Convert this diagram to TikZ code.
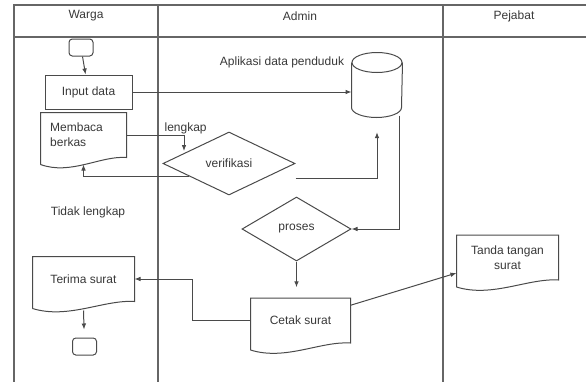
\documentclass[tikz,border=0pt]{standalone}
\usepackage{fontspec}
\setmainfont{Liberation Sans}
\usetikzlibrary{arrows.meta,positioning,calc,shapes.geometric}
\definecolor{Stroke}{HTML}{4A4A4A}
\definecolor{Frame}{HTML}{666666}
\definecolor{Label}{HTML}{383838}
\tikzset{
  >={Latex[length=4.5pt,width=3.5pt]},
  base/.style={draw=Stroke,line width=.75pt,text=Label,font=\fontsize{9}{11}\selectfont,inner sep=1pt},
  term/.style={base,rounded corners=2.5pt,minimum width=18pt,minimum height=12.75pt},
  proc/.style={base,minimum width=65.25pt,minimum height=25.5pt},
  docu/.style={base,draw=none,minimum height=33pt},
  dec/.style={base,diamond,aspect=2,inner sep=0pt},
  store/.style={base,draw=none,minimum width=37.5pt,minimum height=48pt},
  drum/.style={draw=Stroke,line width=.75pt},
  flow/.style={->,draw=Stroke,line width=.75pt},
  lab/.style={text=Label,font=\fontsize{9}{11}\selectfont,inner sep=1pt},
  lane/.style={draw=Frame,line width=1pt}
}
\newcommand{\docwave}[1]{%
  \draw[drum]
    ($(#1.south west)+(0,7)$) -- (#1.north west) -- (#1.north east) -- (#1.south east)
    .. controls ($(#1.south west)!.7!(#1.south east)+(0,-2)$) and ($(#1.south west)!.35!(#1.south east)+(0,18)$) .. ($(#1.south west)+(0,7)$);}

\begin{document}
\begin{tikzpicture}[x=.75pt,y=-.75pt]
  \useasboundingbox (0,0) rectangle (586,382);
  % lanes
  \draw[lane] (14,382) -- (14,5) -- (586,5);
  \draw[lane] (14,37) -- (586,37);
  \draw[lane] (158,5) -- (158,382);
  \draw[lane] (443,5) -- (443,382);
  \node[lab] (hwarga) at (86,16) {Warga};
  \node[lab] (hadmin) at (300,16) {Admin};
  \node[lab] (hpejabat) at (514,16) {Pejabat};
  % warga
  \node[term] (mulai) at (81,47.5) {};
  \node[proc] (input) at (88.5,92) {Input data};
  \node[docu,minimum width=63.75pt,text width=50pt,align=left] (berkas) at (83.5,135) {Membaca\\berkas};
  \node[lab] (tidak) at (88,212) {Tidak lengkap};
  \node[docu,minimum width=75.75pt] (terima) at (83.5,279) {Terima surat};
  \node[term] (selesai) at (84.5,346.5) {};
  % admin
  \node[lab] (aplikasi) at (282,62) {Aplikasi data penduduk};
  \node[store] (db) at (377,85) {};
  \node[lab,anchor=west] (lengkap) at (163,128) {lengkap};
  \node[dec,minimum width=99pt,minimum height=47.25pt] (verif) at (229,163.5) {verifikasi};
  \node[dec,minimum width=81.75pt,minimum height=48pt] (proses) at (296.5,229) {proses};
  \node[docu,minimum width=74.25pt] (cetak) at (300.5,320.5) {Cetak surat};
  % pejabat
  \node[docu,minimum width=75.75pt,align=center] (tanda) at (507.5,257.5) {Tanda tangan\\surat};
  \coordinate (lengkapujung) at (184,151);
  \docwave{berkas}
  \docwave{terima}
  \docwave{cetak}
  \docwave{tanda}
  \draw[drum] ($(db.north west)+(0,10)$) -- ($(db.south west)+(0,-10)$)
    arc[start angle=180,end angle=360,x radius=18.75pt,y radius=7.5pt] -- ($(db.north east)+(0,10)$);
  \draw[drum] ($(db.north)+(0,10)$) ellipse[x radius=18.75pt,y radius=7.5pt];
  % flows
  \draw[flow] (mulai) -- (input);
  \draw[flow] (input) -- (input -| db.west);
  \draw[flow] (berkas) -| (lengkapujung);
  \draw[flow] ($(verif.west)!.4!(verif.south)$) -| ($(berkas.south)+(0,7)$);
  \draw[flow,shorten >=11pt] ([yshift=-11.25pt]verif.east) -| (db.south);
  \draw[flow] ([xshift=-2.25pt,yshift=1.5pt]db.south east) |- (proses);
  \draw[flow,shorten >=8pt] (proses.south) -- (proses.south |- cetak.north);
  \draw[flow] (cetak) -| ($(cetak.west)!.5!(terima.east)$) |- (terima);
  \draw[flow] (cetak) -- (tanda);
  \draw[flow,shorten >=6pt] ($(terima.south)+(0,9)$) -- (selesai);
\end{tikzpicture}
\end{document}
